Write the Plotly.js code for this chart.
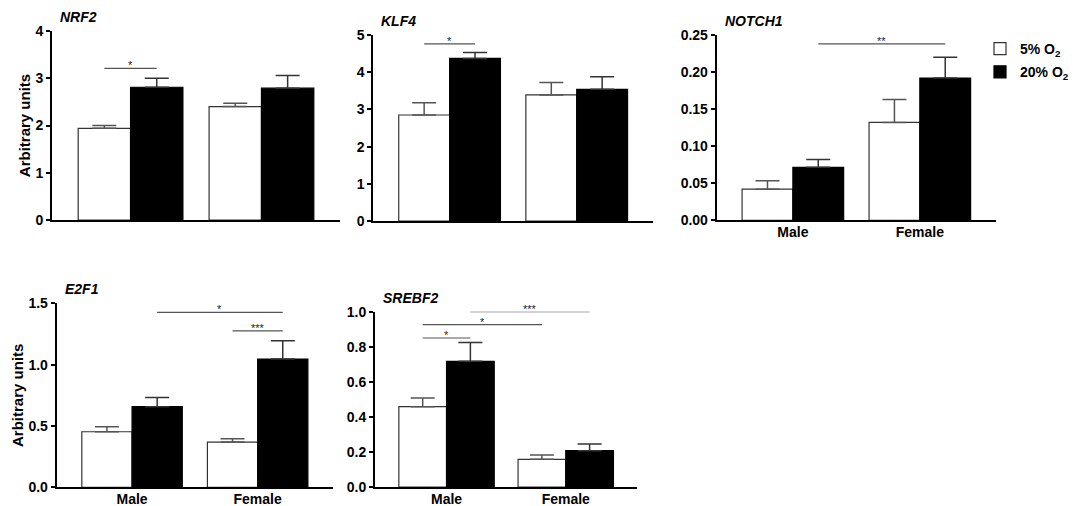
<!DOCTYPE html>
<html>
<head>
<meta charset="utf-8">
<script src="https://cdn.plot.ly/plotly-3.0.1.min.js"></script>
<style>html,body{margin:0;padding:0;background:#fff;}#chart{width:1083px;height:506px;}</style>
</head>
<body>
<div id="chart"></div>
<script>
// ---------- data ----------
const categories = ['Male', 'Female'];
const seriesNames = ['5% O<sub>2</sub>', '20% O<sub>2</sub>'];
const genes = ['NRF2', 'KLF4', 'NOTCH1', 'E2F1', 'SREBF2'];

const NRF2_5 = [1.94, 2.40];     const NRF2_5_SEM = [0.06, 0.07];
const NRF2_20 = [2.81, 2.79];    const NRF2_20_SEM = [0.19, 0.27];
const KLF4_5 = [2.85, 3.39];     const KLF4_5_SEM = [0.33, 0.33];
const KLF4_20 = [4.37, 3.54];    const KLF4_20_SEM = [0.16, 0.34];
const NOTCH1_5 = [0.042, 0.132]; const NOTCH1_5_SEM = [0.0115, 0.031];
const NOTCH1_20 = [0.0715, 0.192]; const NOTCH1_20_SEM = [0.0105, 0.028];
const E2F1_5 = [0.453, 0.369];   const E2F1_5_SEM = [0.041, 0.027];
const E2F1_20 = [0.657, 1.046];  const E2F1_20_SEM = [0.076, 0.149];
const SREBF2_5 = [0.458, 0.158]; const SREBF2_5_SEM = [0.050, 0.025];
const SREBF2_20 = [0.717, 0.207]; const SREBF2_20_SEM = [0.108, 0.038];

// y-axis maxima and tick steps per gene
const yMax = [4, 5, 0.25, 1.5, 1.0];
const yStep = [1, 1, 0.05, 0.5, 0.2];
const yFormat = ['.0f', '.0f', '.2f', '.1f', '.1f'];

// significance comparisons: bars are indexed 0=Male 5%,1=Male 20%,2=Female 5%,3=Female 20%
const NRF2_SIG = [[0, 1, 3.21, '*']];
const KLF4_SIG = [[0, 1, 4.76, '*']];
const NOTCH1_SIG = [[1, 3, 0.238, '**']];
const E2F1_SIG = [[1, 3, 1.426, '*'], [2, 3, 1.276, '***']];
const SREBF2_SIG = [[1, 3, 1.0, '***'], [0, 2, 0.926, '*'], [0, 1, 0.85, '*']];

// ---------- layout helpers ----------
const W = 1083, H = 506;
// panel boxes in pixels: [left, right, top, bottom]
const boxes = [
  [52, 340, 31, 220],
  [373.3, 653, 35, 221],
  [716.7, 996, 35, 220.3],
  [56.7, 333, 303.3, 487.3],
  [375, 637.3, 311.7, 487]
];
const panelData = [
  [NRF2_5, NRF2_5_SEM, NRF2_20, NRF2_20_SEM, NRF2_SIG],
  [KLF4_5, KLF4_5_SEM, KLF4_20, KLF4_20_SEM, KLF4_SIG],
  [NOTCH1_5, NOTCH1_5_SEM, NOTCH1_20, NOTCH1_20_SEM, NOTCH1_SIG],
  [E2F1_5, E2F1_5_SEM, E2F1_20, E2F1_20_SEM, E2F1_SIG],
  [SREBF2_5, SREBF2_5_SEM, SREBF2_20, SREBF2_20_SEM, SREBF2_SIG]
];
const showX = [false, false, true, true, true];
const showYTitle = [true, false, false, true, false];
const legendPanel = 2;

const FONT = 'Liberation Sans, Arial, sans-serif';
const xPos = categories.map((c, i) => i);
const barCenter = [-0.2, 0.2, 0.8, 1.2];

const traces = [];
const shapes = [];
const annotations = [];
const layout = {
  width: W, height: H,
  margin: {l: 0, r: 0, t: 0, b: 0},
  paper_bgcolor: '#fff', plot_bgcolor: '#fff',
  barmode: 'group', bargap: 0.2, bargroupgap: 0,
  font: {family: FONT, color: '#000'},
  showlegend: true,
  legend: {
    x: 980 / W, y: 1 - 33 / H, xanchor: 'left', yanchor: 'top',
    font: {family: FONT, size: 14, weight: 'bold', color: '#000'},
    bgcolor: 'rgba(0,0,0,0)', tracegroupgap: 2, traceorder: 'grouped'
  }
};

panelData.forEach((pd, i) => {
  const n = i + 1;
  const xa = 'x' + (n === 1 ? '' : n), ya = 'y' + (n === 1 ? '' : n);
  const [l, r, t, b] = boxes[i];
  const [m5, s5, m20, s20, sig] = pd;
  traces.push({
    type: 'bar', x: xPos, y: m5, xaxis: xa, yaxis: ya, name: seriesNames[0],
    legendgroup: 'a', showlegend: i === legendPanel,
    marker: {color: '#ffffff', line: {color: '#333', width: 1.2}},
    error_y: {type: 'data', array: s5, arrayminus: s5.map(() => 0), symmetric: false,
              color: '#555', thickness: 1.5, width: 12},
    hoverinfo: 'skip'
  });
  traces.push({
    type: 'bar', x: xPos, y: m20, xaxis: xa, yaxis: ya, name: seriesNames[1],
    legendgroup: 'b', showlegend: i === legendPanel,
    marker: {color: '#000000', line: {color: '#000', width: 1.2}},
    error_y: {type: 'data', array: s20, arrayminus: s20.map(() => 0), symmetric: false,
              color: '#333', thickness: 1.5, width: 12},
    hoverinfo: 'skip'
  });
  const xk = 'xaxis' + (n === 1 ? '' : n), yk = 'yaxis' + (n === 1 ? '' : n);
  layout[xk] = {
    domain: [l / W, r / W], range: [-0.6, 1.6], anchor: ya,
    showline: true, linewidth: 2, linecolor: '#000', ticks: '',
    showgrid: false, zeroline: false, fixedrange: true,
    tickvals: xPos, ticktext: categories, showticklabels: showX[i],
    ticklabelstandoff: -2,
    tickfont: {family: FONT, size: 14, weight: 'bold', color: '#000'}
  };
  layout[yk] = {
    domain: [1 - b / H, 1 - t / H], range: [0, yMax[i]], anchor: xa,
    showline: true, linewidth: 2, linecolor: '#000',
    ticks: 'outside', ticklen: 4, tickwidth: 2, tickcolor: '#000',
    dtick: yStep[i], tick0: 0, tickformat: yFormat[i],
    showgrid: false, zeroline: false, fixedrange: true,
    tickfont: {family: FONT, size: 14, weight: 'bold', color: '#000'}
  };
  if (showYTitle[i]) {
    layout[yk].title = {text: 'Arbitrary units', standoff: 1,
      font: {family: FONT, size: 15, weight: 'bold', color: '#000'}};
  }
  // gene title
  annotations.push({
    xref: xa + ' domain', yref: ya + ' domain', x: 0, y: 1, xanchor: 'left', yanchor: 'bottom',
    xshift: 6, yshift: 4, showarrow: false, text: genes[i],
    font: {family: FONT, size: 14, weight: 'bold', style: 'italic', color: '#000'}
  });
  // significance bars
  sig.forEach(([a, c, yv, lab]) => {
    shapes.push({type: 'line', xref: xa, yref: ya, x0: barCenter[a], x1: barCenter[c], y0: yv, y1: yv,
      line: {color: '#555', width: 1.2}});
    annotations.push({xref: xa, yref: ya, x: (barCenter[a] + barCenter[c]) / 2, y: yv,
      yanchor: 'middle', yshift: 3, showarrow: false, text: lab,
      font: {family: FONT, size: 11, color: '#222'}});
  });
});
layout.shapes = shapes;
layout.annotations = annotations;

Plotly.newPlot('chart', traces, layout, {staticPlot: true, displayModeBar: false});
</script>
</body>
</html>
